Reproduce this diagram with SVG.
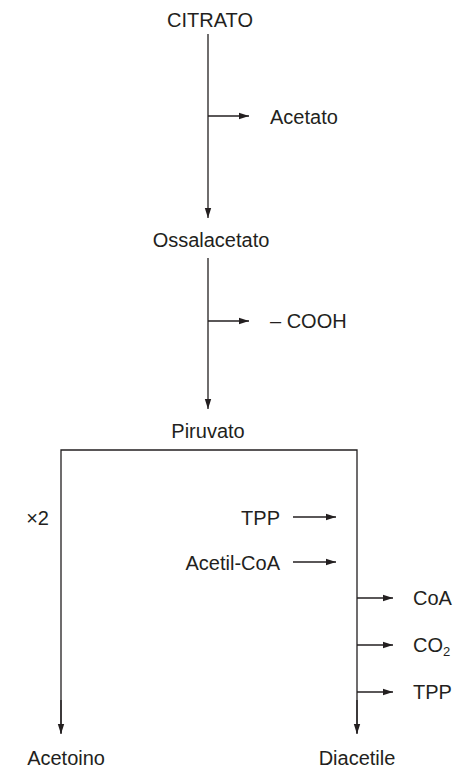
<svg xmlns="http://www.w3.org/2000/svg" width="460" height="769" viewBox="0 0 460 769">
<style>
text{font-family:"Liberation Sans",Arial,sans-serif;font-size:20px;fill:#231f20}
.c{text-anchor:middle}
.e{text-anchor:end}
.ln{stroke:#231f20;stroke-width:1.3;fill:none}
.ar{marker-end:url(#ah)}
</style>
<defs>
<marker id="ah" markerWidth="11" markerHeight="8" refX="10" refY="4" orient="auto" markerUnits="userSpaceOnUse">
<path d="M0,0.8 L10,4 L0,7.2 Z" fill="#231f20"/>
</marker>
</defs>
<g id="connectors">
<line class="ln ar" x1="208" y1="34" x2="208" y2="218"/>
<line class="ln ar" x1="208" y1="116" x2="249" y2="116"/>
<line class="ln ar" x1="208" y1="258" x2="208" y2="409"/>
<line class="ln ar" x1="208" y1="321" x2="249" y2="321"/>
<polyline class="ln" points="61,733 61,450 357,450 357,733"/>
<line class="ln ar" x1="61" y1="700" x2="61" y2="734"/>
<line class="ln ar" x1="357" y1="700" x2="357" y2="734"/>
<line class="ln ar" x1="293" y1="517" x2="336" y2="517"/>
<line class="ln ar" x1="293" y1="562" x2="336" y2="562"/>
<line class="ln ar" x1="357" y1="598" x2="393" y2="598"/>
<line class="ln ar" x1="357" y1="645" x2="393" y2="645"/>
<line class="ln ar" x1="357" y1="692" x2="393" y2="692"/>
</g>
<g id="citrato"><text class="c" x="210" y="27">CITRATO</text></g>
<g id="acetato"><text x="270" y="124">Acetato</text></g>
<g id="ossalacetato"><text class="c" x="211" y="247">Ossalacetato</text></g>
<g id="cooh"><text x="270" y="328">– COOH</text></g>
<g id="piruvato"><text class="c" x="208" y="438">Piruvato</text></g>
<g id="x2"><text class="e" x="49" y="525">×2</text></g>
<g id="tpp1"><text class="e" x="280" y="525">TPP</text></g>
<g id="acetilcoa"><text class="e" x="280" y="570">Acetil-CoA</text></g>
<g id="coa"><text x="413" y="605">CoA</text></g>
<g id="co2"><text x="413" y="652">CO<tspan font-size="13" dy="4">2</tspan></text></g>
<g id="tpp2"><text x="413" y="699">TPP</text></g>
<g id="acetoino"><text class="e" x="105" y="765">Acetoino</text></g>
<g id="diacetile"><text class="c" x="357" y="765">Diacetile</text></g>
</svg>
